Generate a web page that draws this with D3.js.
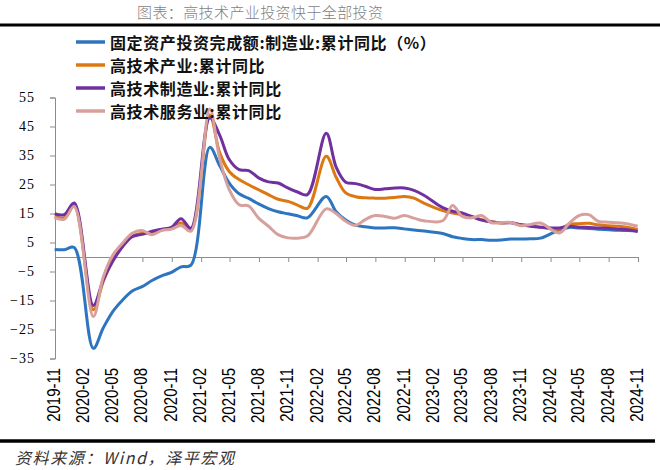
<!DOCTYPE html>
<html>
<head>
<meta charset="utf-8">
<script src="https://cdn.jsdelivr.net/npm/d3@7"></script>
<style>
  body { margin: 0; background: #fff; }
  svg { display: block; }
</style>
</head>
<body>
<div id="chart"></div>
<script>
// months with data (Wind dates, no January figures)
var months = [
  "2019-10","2019-11","2019-12",
  "2020-02","2020-03","2020-04","2020-05","2020-06","2020-07","2020-08","2020-09","2020-10","2020-11","2020-12",
  "2021-02","2021-03","2021-04","2021-05","2021-06","2021-07","2021-08","2021-09","2021-10","2021-11","2021-12",
  "2022-02","2022-03","2022-04","2022-05","2022-06","2022-07","2022-08","2022-09","2022-10","2022-11","2022-12",
  "2023-02","2023-03","2023-04","2023-05","2023-06","2023-07","2023-08","2023-09","2023-10","2023-11","2023-12",
  "2024-02","2024-03","2024-04","2024-05","2024-06","2024-07","2024-08","2024-09","2024-10"
];

var manufacturing = [
  2.6, 2.5, 3.3,
  -31.5, -24.5, -18.8, -14.8, -11.7, -10.2, -8.1, -6.5, -5.3, -3.4, -2.8,
  37.8, 31.5, 25.5, 21.8, 20.2, 18.3, 16.7, 15.6, 14.9, 14.2, 13.5,
  20.9, 15.6, 12.8, 11.0, 10.4, 10.0, 10.0, 10.1, 9.7, 9.3, 9.0,
  8.1, 7.0, 6.4, 6.0, 6.0, 5.8, 5.9, 6.2, 6.2, 6.3, 6.5,
  9.4, 10.2, 10.0, 9.8, 9.6, 9.4, 9.2, 9.1, 9.0
];

var hiTech = [
  14.0, 13.5, 17.8,
  -18.2, -8.5, -1.0, 3.8, 7.2, 8.2, 8.4, 9.4, 9.9, 11.7, 9.4,
  49.0, 36.0, 29.5, 26.7, 24.9, 23.2, 21.5, 19.9, 19.2, 17.9, 16.8,
  34.7, 27.5, 22.1, 20.8, 20.4, 20.3, 20.3, 20.5, 20.9, 20.3, 18.6,
  16.0, 15.2, 14.6, 14.0, 12.9, 12.2, 11.7, 11.9, 11.1, 10.8, 10.3,
  9.6, 11.3, 11.5, 11.6, 11.1, 10.8, 10.6, 10.2, 9.5
];

var hiTechMfg = [
  14.9, 14.6, 18.6,
  -16.7, -8.0, -1.5, 3.6, 7.0, 7.8, 8.9, 9.6, 10.2, 13.2, 9.9,
  48.0, 42.0, 33.6, 30.1, 29.8, 27.3, 25.9, 25.5, 23.8, 22.4, 21.5,
  42.7, 31.0, 25.8, 25.3, 24.4, 23.3, 23.5, 23.8, 23.8, 23.0, 21.3,
  17.0, 15.8, 15.2, 13.9, 12.7, 12.1, 11.8, 11.8, 11.1, 10.6, 10.3,
  10.0, 10.6, 10.3, 10.2, 10.0, 9.9, 9.6, 9.4, 8.8
];

var hiTechSvc = [
  13.6, 13.0, 17.4,
  -20.5, -7.0, 0.6, 4.8, 8.2, 9.1, 7.7, 9.1, 9.6, 10.9, 8.9,
  51.0, 34.0, 23.2, 18.0, 17.6, 13.4, 10.6, 7.7, 6.6, 6.5, 7.2,
  16.6, 15.0, 12.3, 10.9, 12.9, 14.3, 14.0, 13.4, 14.3, 13.4, 12.5,
  12.5, 17.8, 14.0, 13.5, 14.3, 11.8, 11.9, 11.9, 10.8, 11.2, 11.7,
  8.3, 11.7, 14.3, 14.6, 12.3, 12.0, 11.8, 11.4, 10.6
];

var tickLabels = [
  "2019-11","2020-02","2020-05","2020-08","2020-11","2021-02","2021-05","2021-08","2021-11",
  "2022-02","2022-05","2022-08","2022-11","2023-02","2023-05","2023-08","2023-11",
  "2024-02","2024-05","2024-08","2024-11"
];
var yTicks = [-35, -25, -15, -5, 5, 15, 25, 35, 45, 55];

var seriesNames = [
  "固定资产投资完成额:制造业:累计同比（%）",
  "高技术产业:累计同比",
  "高技术制造业:累计同比",
  "高技术服务业:累计同比"
];
var seriesColors = ["#2E75C0", "#DC7812", "#7030A0", "#D7A09D"];
var seriesValues = [manufacturing, hiTech, hiTechMfg, hiTechSvc];

var W = 660, H = 470;
var parseMonth = d3.timeParse("%Y-%m");
// Wind dates are month-end
function monthEnd(s) {
  var d = parseMonth(s);
  return new Date(d.getFullYear(), d.getMonth() + 1, 0);
}

var svg = d3.select("#chart").append("svg")
    .attr("width", W)
    .attr("height", H);

// title + rules
svg.append("text")
    .attr("x", 137)
    .attr("y", 18)
    .style("font-family", "'Noto Sans CJK SC', sans-serif")
    .style("font-size", "15px")
    .style("font-weight", "300")
    .style("letter-spacing", "0.4px")
    .style("fill", "#7f7f7f")
    .text("图表：高技术产业投资快于全部投资");

svg.append("line")
    .attr("x1", 0).attr("x2", 660)
    .attr("y1", 25).attr("y2", 25)
    .style("stroke", "#000").style("stroke-width", 3);

svg.append("line")
    .attr("x1", 0).attr("x2", 655)
    .attr("y1", 441).attr("y2", 441)
    .style("stroke", "#000").style("stroke-width", 3.5);

svg.append("text")
    .attr("x", 15)
    .attr("y", 464)
    .style("font-family", "'Noto Sans CJK SC', sans-serif")
    .style("font-size", "16px")
    .style("font-style", "italic")
    .style("letter-spacing", "1.6px")
    .style("fill", "#333")
    .text("资料来源：Wind，泽平宏观");

// scales
var x = d3.scaleTime()
    .domain([parseMonth("2019-11"), parseMonth("2024-11")])
    .range([55, 638]);

var y = d3.scaleLinear()
    .domain([-35, 55])
    .range([358.5, 97.5]);

// y axis
var yAxis = svg.append("g")
    .attr("transform", "translate(55,0)")
    .call(d3.axisLeft(y).tickValues(yTicks).tickSize(5).tickPadding(6).tickFormat(d3.format("d")));
yAxis.select(".domain").style("stroke", "#8c8c8c");
yAxis.selectAll(".tick line").style("stroke", "#8c8c8c");
yAxis.selectAll(".tick text")
    .attr("x", -20)
    .style("font-family", "'Liberation Serif', serif")
    .style("font-size", "14px")
    .style("letter-spacing", "1px")
    .style("fill", "#000");

// x axis on zero line
var xAxis = svg.append("g")
    .attr("transform", "translate(0," + y(0) + ")")
    .call(d3.axisBottom(x)
        .tickValues(tickLabels.map(parseMonth))
        .tickSize(5)
        .tickFormat(d3.timeFormat("%Y-%m")));
xAxis.select(".domain").style("stroke", "#8c8c8c");
xAxis.selectAll(".tick line").style("stroke", "#8c8c8c");
xAxis.selectAll(".tick text").remove();

// rotated x labels near bottom
svg.append("g").selectAll("text")
    .data(tickLabels)
    .enter()
    .append("text")
    .attr("transform", function(d) {
        return "translate(" + (x(parseMonth(d)) + 5) + ",368) rotate(-90) scale(1,1.2)";
    })
    .attr("text-anchor", "end")
    .style("font-family", "'Liberation Sans', Arial, sans-serif")
    .style("font-size", "15px")
    .style("fill", "#000")
    .text(function(d) { return d; });

// lines
var line = d3.line()
    .x(function(d) { return x(d.date); })
    .y(function(d) { return y(d.value); })
    .curve(d3.curveCatmullRom.alpha(0.5));

seriesValues.forEach(function(vals, i) {
    var pts = months.map(function(m, j) {
        return { date: monthEnd(m), value: vals[j] };
    });
    svg.append("path")
        .datum(pts)
        .attr("d", line)
        .style("fill", "none")
        .style("stroke", seriesColors[i])
        .style("stroke-width", 3)
        .style("stroke-linejoin", "round");
});

// legend
var legend = svg.append("g").selectAll(".legend")
    .data(seriesNames)
    .enter()
    .append("g")
    .attr("class", "legend")
    .attr("transform", function(d, i) { return "translate(0," + (42 + i * 23) + ")"; });

legend.append("line")
    .attr("x1", 76).attr("x2", 105)
    .attr("y1", 0).attr("y2", 0)
    .style("stroke", function(d, i) { return seriesColors[i]; })
    .style("stroke-width", 3.5);

legend.append("text")
    .attr("x", 110)
    .attr("y", 0)
    .attr("dominant-baseline", "central")
    .style("font-family", "'Noto Sans CJK SC', sans-serif")
    .style("font-size", "16px")
    .style("font-weight", "bold")
    .style("letter-spacing", "0.6px")
    .style("fill", "#111")
    .text(function(d) { return d; });
</script>
</body>
</html>
